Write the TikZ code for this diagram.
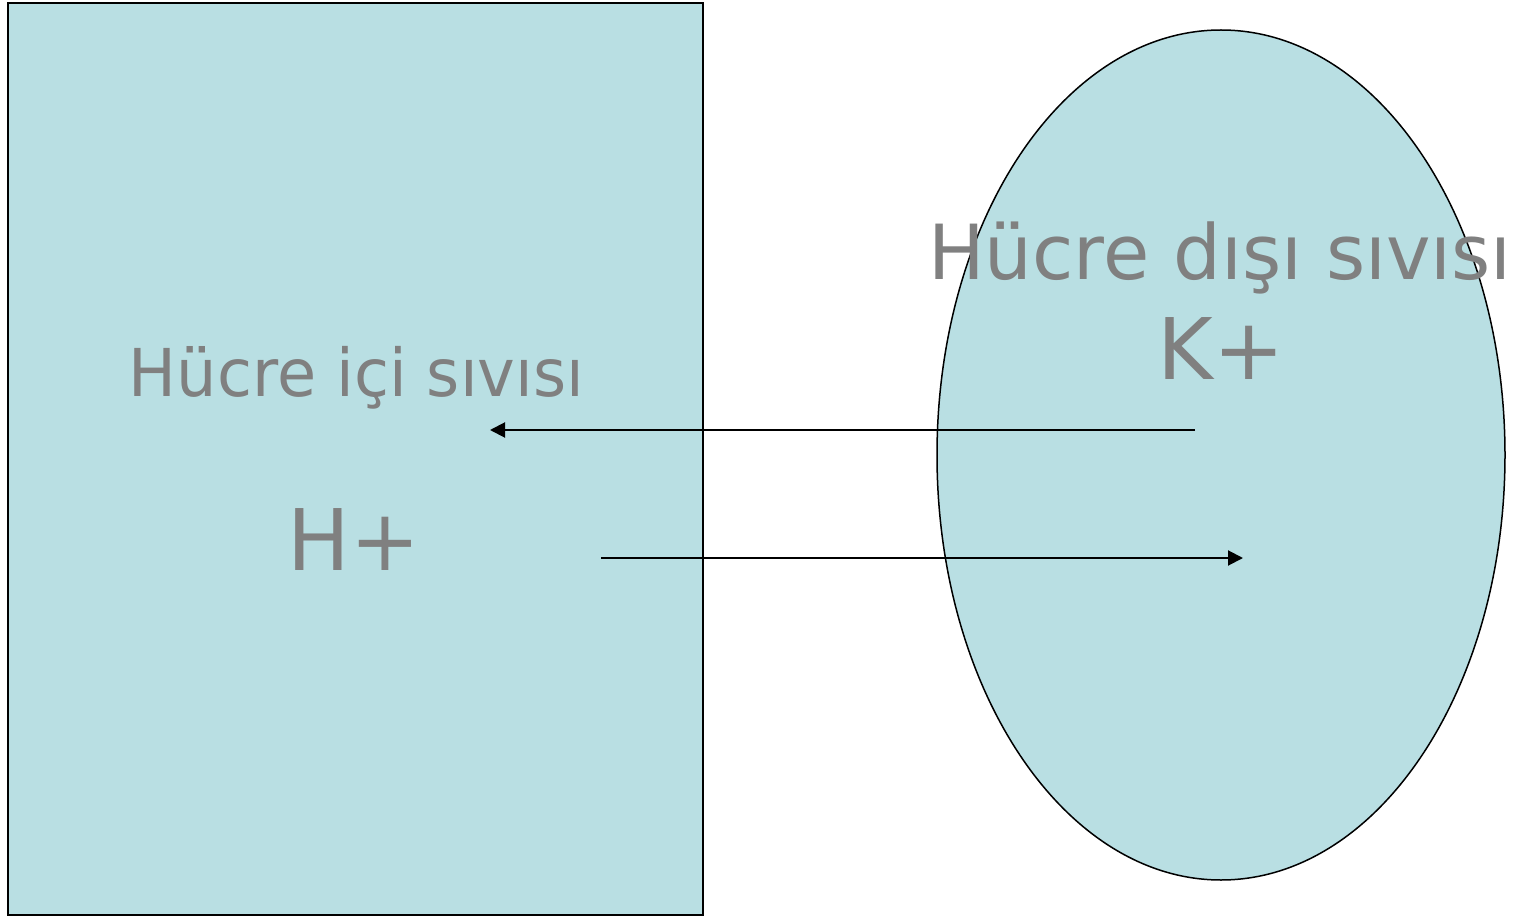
\documentclass[tikz,border=0pt]{standalone}
\usepackage{fontspec}
\setmainfont{DejaVu Sans}
\usetikzlibrary{arrows.meta,shapes.geometric}
\definecolor{cellfill}{HTML}{B9DFE3}
\definecolor{labelgray}{HTML}{808080}
\tikzset{
  compartment/.style={draw=black, line width=1.5pt, fill=cellfill},
  lbl/.style={text=labelgray, inner sep=0pt, anchor=base},
  flow/.style={line width=2pt, -{Triangle[length=15pt,width=15pt]}}
}
\begin{document}
\begin{tikzpicture}[x=1pt,y=-1pt]
\useasboundingbox (0,0) rectangle (1516,917);
\node[compartment, rectangle, minimum width=695pt, minimum height=912pt, inner sep=0pt] (icf) at (355.5,459) {};
\node[compartment, ellipse, minimum width=568pt, minimum height=850pt, inner sep=0pt] (ecf) at (1221,455) {};
\node[lbl, xscale=0.965, font=\fontsize{66}{70}\selectfont] (icftxt) at (356.5,396) {Hücre içi sıvısı};
\node[lbl, xscale=0.98, font=\fontsize{85}{90}\selectfont] (h) at (354,570) {H+};
\node[lbl, xscale=0.99, font=\fontsize{76}{80}\selectfont] (ecftxt) at (1220,280) {Hücre dışı sıvısı};
\node[lbl, font=\fontsize{85}{90}\selectfont] (k) at (1221,379) {K+};
\coordinate (kstart) at (1195,430);
\coordinate (kend) at (490,430);
\coordinate (hstart) at (601,558);
\coordinate (hend) at (1243,558);
\draw[flow] (kstart) -- (kend);
\draw[flow] (hstart) -- (hend);
\end{tikzpicture}
\end{document}
